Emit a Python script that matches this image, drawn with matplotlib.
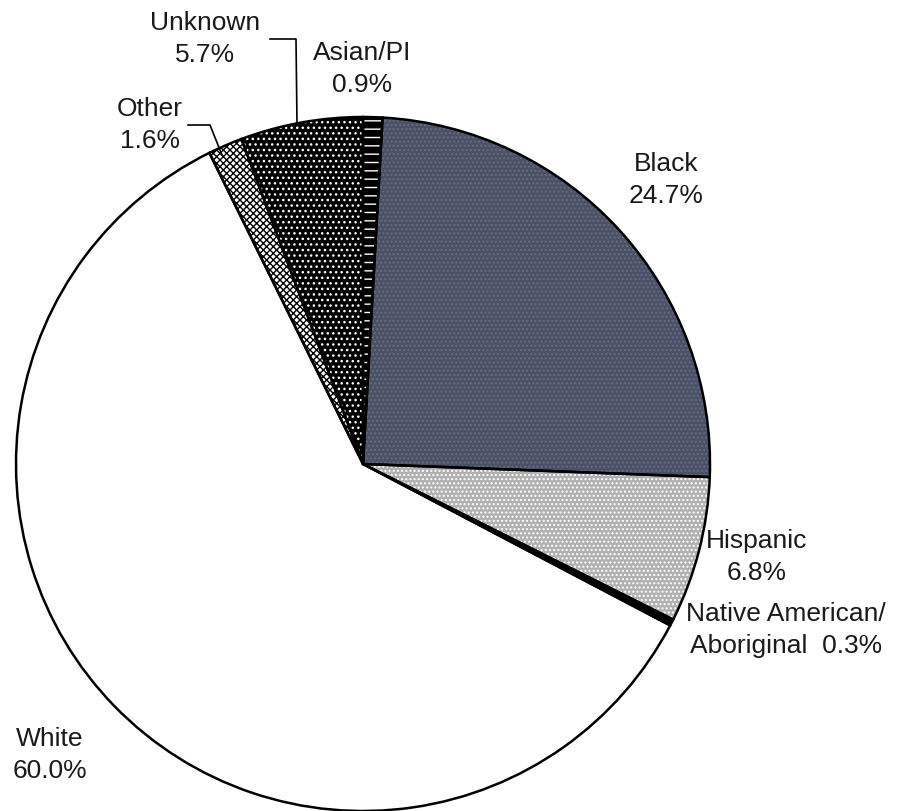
import matplotlib.pyplot as plt
from matplotlib.patches import Wedge

plt.rcParams["font.family"] = ["Liberation Sans", "DejaVu Sans"]

# share of cases by race, clockwise from 12 o'clock
groups = ["Asian/PI", "Black", "Hispanic", "Native American/Aboriginal",
          "White", "Other", "Unknown"]
shares = [0.9, 24.7, 6.8, 0.3, 60.0, 1.6, 5.7]

label_texts = [
    "Asian/PI\n0.9%",
    "Black\n24.7%",
    "Hispanic\n6.8%",
    "Native American/\nAboriginal  0.3%",
    "White\n60.0%",
    "Other\n1.6%",
    "Unknown\n5.7%",
]

# fill, hatch colour, hatch pattern for each slice
styles = {
    "Asian/PI": ("black", "white", "--"),
    "Black": ("#4a5066", "#666c82", "...."),
    "Hispanic": ("#b0b0b0", "white", "...."),
    "Native American/Aboriginal": ("black", None, None),
    "White": ("white", None, None),
    "Other": ("white", "black", "xxxxx"),
    "Unknown": ("black", "white", "..."),
}

W, H = 897, 812
CX, CY, R = 363, H - 465, 347

label_pos = {
    "Asian/PI": (362, 69),
    "Black": (666, 180),
    "Hispanic": (757, 557),
    "Native American/Aboriginal": (786, 630),
    "White": (50, 755),
    "Other": (150, 125),
    "Unknown": (205, 39),
}


def main():
    fig = plt.figure(figsize=(W / 100, H / 100), dpi=100)
    ax = fig.add_axes([0, 0, 1, 1])

    wedges, _ = ax.pie(shares, startangle=90, counterclock=False,
                       center=(CX, CY), radius=R, frame=True,
                       wedgeprops=dict(linewidth=0))
    ax.set_xlim(0, W)
    ax.set_ylim(0, H)
    ax.set_aspect("equal")
    ax.axis("off")

    for name, w in zip(groups, wedges):
        face, hcolor, hatch = styles[name]
        w.set_facecolor(face)
        if hatch:
            ax.add_patch(Wedge(w.center, w.r, w.theta1, w.theta2,
                               facecolor="none", edgecolor=hcolor,
                               linewidth=0, hatch=hatch, zorder=2))
        ax.add_patch(Wedge(w.center, w.r, w.theta1, w.theta2,
                           facecolor="none", edgecolor="black",
                           linewidth=1.8, zorder=3))

    for name, text in zip(groups, label_texts):
        x, y = label_pos[name]
        ax.text(x, H - y, text, ha="center", va="center", fontsize=19,
                linespacing=1.4, color="#1a1a1a")

    # leader lines for the two narrow slices on the top left
    ax.plot([188, 210, 222], [H - 126, H - 126, H - 156],
            color="black", linewidth=1.2)
    ax.plot([270, 296, 297], [H - 40, H - 40, H - 125],
            color="black", linewidth=1.2)

    fig.savefig("out.png", dpi=100, facecolor="white")


if __name__ == "__main__":
    main()
